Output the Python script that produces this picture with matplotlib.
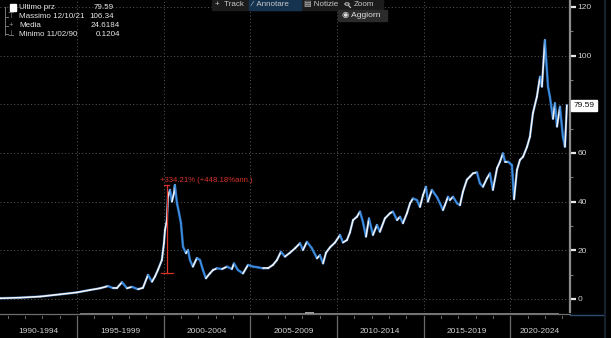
import matplotlib
matplotlib.use("Agg")
import matplotlib.pyplot as plt
from matplotlib.patches import Rectangle, Circle
from matplotlib.lines import Line2D
from matplotlib.collections import LineCollection
import matplotlib.transforms as mtransforms

plt.rcParams['font.family'] = ['Liberation Sans', 'DejaVu Sans']

# ---- data -------------------------------------------------------------
years = [1990.11, 1990.56, 1991.71, 1992.87, 1994.02, 1995.00, 1995.75, 1996.33, 1996.79,
         1997.08, 1997.31, 1997.60, 1997.89, 1998.17, 1998.52, 1998.81, 1999.10,
         1999.33, 1999.50, 1999.67, 1999.90, 2000.02, 2000.08, 2000.19, 2000.25,
         2000.37, 2000.48, 2000.60, 2000.65, 2000.77, 2000.89, 2001.00, 2001.12,
         2001.29, 2001.41, 2001.52, 2001.69, 2001.92, 2002.10, 2002.27, 2002.44,
         2002.67, 2002.85, 2003.08, 2003.37, 2003.66, 2003.94, 2004.06, 2004.29,
         2004.58, 2004.87, 2005.16, 2005.44, 2005.73, 2006.02, 2006.31, 2006.54,
         2006.77, 2007.00, 2007.29, 2007.58, 2007.87, 2008.04, 2008.27, 2008.56,
         2008.85, 2009.02, 2009.20, 2009.37, 2009.60, 2009.89, 2010.18, 2010.35,
         2010.58, 2010.75, 2010.93, 2011.16, 2011.33, 2011.50, 2011.68, 2011.85,
         2012.08, 2012.31, 2012.48, 2012.77, 2013.06, 2013.23, 2013.47, 2013.64,
         2013.81, 2014.04, 2014.22, 2014.39, 2014.62, 2014.79, 2014.97, 2015.14,
         2015.25, 2015.48, 2015.77, 2015.95, 2016.12, 2016.23, 2016.41, 2016.52,
         2016.70, 2016.93, 2017.10, 2017.27, 2017.50, 2017.68, 2017.85, 2018.08,
         2018.25, 2018.43, 2018.66, 2018.83, 2019.00, 2019.24, 2019.41, 2019.58,
         2019.70, 2019.87, 2020.10, 2020.22, 2020.39, 2020.56, 2020.74, 2020.97,
         2021.14, 2021.31, 2021.54, 2021.72, 2021.83, 2022.00, 2022.18, 2022.29,
         2022.47, 2022.58, 2022.70, 2022.87, 2023.04, 2023.16, 2023.27]
price = [0.1204, 0.3, 0.55, 1.0, 1.9, 2.7, 3.7, 4.4, 5.3,
         4.5, 4.5, 6.9, 4.4, 5.0, 4.0, 4.6, 9.9,
         7.1, 9.2, 11.9, 16.0, 22.9, 28.3, 32.4, 42.0,
         44.8, 40.0, 43.5, 46.8, 39.4, 35.3, 31.2, 21.5,
         18.8, 20.1, 16.0, 13.3, 16.8, 16.0, 11.9, 8.5,
         10.5, 11.9, 12.6, 12.3, 13.3, 12.3, 14.6, 11.9,
         10.5, 14.0, 13.3, 13.0, 12.6, 12.6, 14.0, 16.0,
         19.4, 17.4, 19.0, 20.8, 22.9, 20.1, 23.5, 20.8,
         16.7, 18.0, 14.6, 19.0, 21.2, 23.2, 26.3, 23.2,
         24.2, 27.3, 32.4, 33.8, 35.9, 31.7, 25.6, 33.1,
         26.3, 30.4, 27.6, 33.1, 35.2, 35.9, 32.4, 33.8,
         31.1, 35.2, 39.3, 41.3, 40.6, 37.8, 42.7, 46.1,
         40.0, 44.8, 41.9, 39.3, 36.5, 38.5, 42.0, 40.6,
         42.0, 39.3, 38.5, 44.0, 49.0, 50.3, 51.6, 52.0,
         47.5, 46.1, 49.6, 51.6, 44.8, 53.7, 56.4, 59.8,
         56.4, 56.4, 55.0, 41.0, 53.0, 57.1, 58.4, 62.5,
         66.7, 76.3, 83.1, 91.3, 87.2, 106.34, 87.2, 83.1,
         74.0, 80.4, 70.8, 79.0, 66.7, 62.5, 79.59]

period_labels = ["1990-1994", "1995-1999", "2000-2004", "2005-2009",
                 "2010-2014", "2015-2019", "2020-2024"]
period_starts = [1990, 1995, 2000, 2005, 2010, 2015, 2020]
y_ticks = [0, 20, 40, 60, 80, 100, 120]

legend_names = ["Ultimo prz", "Massimo 12/10/21", "Media", "Minimo 11/02/90"]
media_value = 24.6184
gain_pct = 334.21
gain_ann_pct = 448.18
gain_start_year = 2000.19

# ---- figure -----------------------------------------------------------
W, H = 611, 338
fig = plt.figure(figsize=(W / 100, H / 100), dpi=100, facecolor='black')


def fx(p):
    return p / W


def fy(p):
    return 1 - p / H


x_lo, x_hi = 1990.56, 2023.45
ax = fig.add_axes([0, fy(312), fx(570), 312 / H])
ax.set_facecolor('black')
ax.set_xlim(x_lo, x_hi)
ax.set_ylim(-5.34, 122.8)

for s in ['left', 'top', 'bottom']:
    ax.spines[s].set_visible(False)
ax.spines['right'].set_color('#8c8c8c')
ax.spines['right'].set_linewidth(1.6)

ax.yaxis.tick_right()
ax.set_yticks(y_ticks)
# the last-price flag sits over the 80 level, so that label stays blank
last_val = price[-1]
ax.set_yticklabels([('' if abs(v - last_val) < 5 else str(v)) for v in y_ticks])
ax.set_yticks([10, 30, 50, 70, 90, 110], minor=True)
ax.tick_params(axis='y', which='major', colors='#e6e6e6', labelcolor='#cfcfcf',
               length=4, width=1.6, pad=1.5, labelsize=6)
ax.tick_params(axis='y', which='minor', colors='#777777', length=2.5, width=0.8)
ax.set_xticks([])

# dotted grid
for v in y_ticks:
    ax.axhline(v, color='#5a5a5a', lw=0.7, ls=(0, (1, 2.5)), zorder=1)
for ys in period_starts[1:]:
    ax.axvline(ys, color='#5a5a5a', lw=0.7, ls=(0, (1, 2.5)), zorder=1)

# price line: rising legs white, falling legs blue
segs = [[(years[i], price[i]), (years[i + 1], price[i + 1])] for i in range(len(years) - 1)]
cols = ['#f4f4f4' if price[i + 1] >= price[i] else '#3d8de0' for i in range(len(years) - 1)]
ax.plot(years, price, color='#2a68b0', lw=1.9, zorder=3, alpha=0.75)
ax.add_collection(LineCollection(segs, colors=cols, linewidths=1.2, zorder=4,
                                 capstyle='round'))

# gain annotation
peak_2000 = max(p for y, p in zip(years, price) if 1999.5 < y < 2001.5)
base_val = peak_2000 / (1 + gain_pct / 100)
red = '#d8342c'
ax.plot([gain_start_year, gain_start_year], [base_val, peak_2000], color=red, lw=0.9, zorder=5)
ax.plot([gain_start_year - 0.36, gain_start_year + 0.36], [base_val, base_val], color=red, lw=0.9, zorder=5)
ax.plot([gain_start_year - 0.15, gain_start_year + 0.15], [peak_2000, peak_2000], color=red, lw=0.9, zorder=5)
ax.text(gain_start_year - 0.4, peak_2000 + 0.6,
        f"+{gain_pct:.2f}% (+{gain_ann_pct:.2f}%ann.)",
        color=red, fontsize=5.6, ha='left', va='bottom', zorder=6)

# last price flag
trans = mtransforms.blended_transform_factory(ax.transAxes, ax.transData)
ax.text(1.006, last_val, f"{last_val:.2f}", transform=trans, fontsize=6,
        color='#111111', ha='left', va='center', clip_on=False, zorder=7,
        bbox=dict(boxstyle='square,pad=0.25', fc='white', ec='white'))

# ---- bottom period strip ---------------------------------------------
ax2 = fig.add_axes([0, 0, fx(570), 26 / H])
ax2.set_facecolor('#060606')
ax2.set_xlim(x_lo, x_hi)
ax2.set_ylim(0, 26)
ax2.axis('off')
# navigator bar
ax2.plot([x_lo, x_hi], [24.5, 24.5], color='#6e6e6e', lw=0.9, clip_on=False)
ax2.add_patch(Rectangle((1995.15, 22.8), 2022.8 - 1995.15, 2.2, color='#7a7a7a', lw=0))
ax2.add_patch(Rectangle((2008.15, 23.2), 0.55, 2.6, color='#9a9a9a', lw=0))
# yearly ticks
for yr in range(1991, 2024):
    ax2.plot([yr, yr], [20.3, 22.2], color='#6a6a6a', lw=0.7)
# dividers and labels
for i, ys in enumerate(period_starts):
    if ys > x_lo:
        ax2.plot([ys, ys], [1, 22.5], color='#6a6a6a', lw=0.9)
    left = max(ys, x_lo)
    right = min(ys + 5, x_hi)
    ax2.text((left + right) / 2, 6.5, period_labels[i], color='#cfcfcf',
             fontsize=6, ha='center', va='center')

fig.lines.append(Line2D([fx(570), fx(605)], [fy(314.5), fy(314.5)],
                        color='#2d4d70', lw=1.0, transform=fig.transFigure))
fig.lines.append(Line2D([fx(604.5), fx(604.5)], [fy(0), fy(338)],
                        color='#17222e', lw=1.5, transform=fig.transFigure))

# ---- top-left info legend -------------------------------------------
row_y = [7.3, 16.5, 25.5, 34.3]
legend_vals = [f"{last_val:.2f}", f"{max(price):.2f}", f"{media_value:.4f}", f"{min(price):.4f}"]
val_right = [114, 114, 120, 120]
fig.patches.append(Rectangle((fx(9.5), fy(10.5)), fx(6), 6.5 / H, color='white',
                             transform=fig.transFigure))
fig.lines.append(Line2D([fx(5), fx(5)], [fy(7), fy(35)], color='#777777', lw=0.7,
                        transform=fig.transFigure))
for gy in row_y[1:]:
    fig.lines.append(Line2D([fx(5), fx(8)], [fy(gy), fy(gy)], color='#777777', lw=0.7,
                            transform=fig.transFigure))
for gy, g in zip(row_y[1:], ['⊤', '+', '⊥']):
    fig.text(fx(11), fy(gy), g, color='#9a9a9a', fontsize=5.5, ha='center', va='center')
for gy, name, val, vr in zip(row_y, legend_names, legend_vals, val_right):
    fig.text(fx(19), fy(gy), name, color='#e8e8e8', fontsize=5.8, ha='left', va='center')
    fig.text(fx(vr), fy(gy), val, color='#e8e8e8', fontsize=5.8, ha='right', va='center')

# ---- toolbar ----------------------------------------------------------
fig.patches.append(Rectangle((fx(212), fy(9.5)), fx(383 - 212), 9.5 / H, color='#1c1c1c',
                             transform=fig.transFigure))
fig.patches.append(Rectangle((fx(249), fy(9.5)), fx(301 - 249), 9.5 / H, color='#15324f',
                             transform=fig.transFigure))
for tx, label in [(215, '+  Track'), (252, '⁄  Annotare'), (304, '▤ Notizie'), (354, 'Zoom')]:
    fig.text(fx(tx), fy(4.8), label, color='#c8c8c8', fontsize=5.8, ha='left', va='center')
# magnifier icon next to "Zoom"
fig.patches.append(Circle((fx(347), fy(4.0)), 2.2 / W, fill=False, ec='#c8c8c8', lw=0.7,
                          transform=fig.transFigure))
fig.lines.append(Line2D([fx(348.6), fx(350.5)], [fy(5.6), fy(7.5)], color='#c8c8c8', lw=0.8,
                        transform=fig.transFigure))
fig.patches.append(Rectangle((fx(338), fy(21)), fx(387 - 338), 11 / H, color='#2b2b2b',
                             transform=fig.transFigure))
fig.text(fx(342), fy(15.5), '◉ Aggiorn', color='#e0e0e0', fontsize=6, ha='left', va='center')

fig.savefig('out.png', dpi=100, facecolor='black')
